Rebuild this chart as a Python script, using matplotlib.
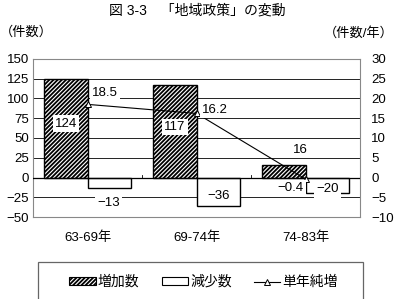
import numpy as np
import matplotlib.pyplot as plt
from matplotlib.lines import Line2D
from matplotlib.patches import Patch, Rectangle

plt.rcParams['font.family'] = ['Liberation Sans', 'Noto Sans CJK JP']
plt.rcParams['font.size'] = 9.5
plt.rcParams['hatch.linewidth'] = 1.3

periods = ['63-69年', '69-74年', '74-83年']
increase = [124, 117, 16]
decrease = [-13, -36, -20]
net_per_year = [18.5, 16.2, -0.4]

fig = plt.figure(figsize=(3.94, 2.99), dpi=100)
ax = fig.add_axes([0.084, 0.274, 0.83, 0.529])
ax2 = ax.twinx()

x = np.arange(len(periods))
w = 0.4

ax.bar(x - w, increase, w, align='edge', facecolor='white', edgecolor='black',
       hatch='////////', lw=1.0, zorder=3, label='増加数')
ax.bar(x, decrease, w, align='edge', facecolor='white', edgecolor='black',
       lw=1.0, zorder=3, label='減少数')
ax.set_ylim(-50, 150)
ax.set_yticks(range(-50, 151, 25))
ax.set_yticklabels([str(v).replace('-', '−') for v in range(-50, 151, 25)])
ax.set_xlim(-0.5, 2.5)
ax.set_xticks(x)
ax.set_xticklabels(periods)
ax.tick_params(length=0, pad=3)
ax.tick_params(axis='x', pad=10)
for v in range(-50, 151, 25):
    if v not in (-50, 150):
        ax.axhline(v, color='#222222', lw=0.7, zorder=1)
ax.axhline(0, color='black', lw=0.9, zorder=4)
for b in x[:-1] + 0.5:
    ax.plot([b, b], [0, 3], color='black', lw=0.6, zorder=4)
for s in ax.spines.values():
    s.set_color('#888888')
    s.set_linewidth(0.8)

ax2.set_ylim(-10, 30)
ax2.set_yticks(range(-10, 31, 5))
ax2.set_yticklabels([str(v).replace('-', '−') for v in range(-10, 31, 5)])
ax2.tick_params(length=0, pad=8)
for s in ax2.spines.values():
    s.set_visible(False)
ax2.plot(x, net_per_year, color='black', lw=0.8, marker='^', ms=5,
         mfc='white', mec='black', mew=0.7, zorder=5)

box = dict(facecolor='white', edgecolor='none', pad=1.5)
for i in range(len(periods)):
    if increase[i] > 50:
        ax.text(x[i] - w / 2, increase[i] * 0.55, str(increase[i]), ha='center',
                va='center', bbox=box, zorder=6)
    else:
        ax.text(x[i] - w / 8, increase[i] + 19, str(increase[i]), ha='center',
                va='center', bbox=box, zorder=6)
    ax.text(x[i] + w / 2 + (-0.01 if i == 0 else 0.0), decrease[i] - 19 if i == 0 else decrease[i] / 2 - 5,
            str(decrease[i]).replace('-', '−'), ha='center', va='center', bbox=box, zorder=6)
ax2.text(x[0] + 0.16, net_per_year[0] + 2.8, '18.5', ha='center', va='center', bbox=box, zorder=6)
ax2.text(x[1] + 0.17, net_per_year[1] + 0.9, '16.2', ha='center', va='center', bbox=box, zorder=6)
ax2.text(x[2] - 0.14, net_per_year[2] - 2.2, '−0.4', ha='center', va='center', bbox=box, zorder=6)

fig.text(0.5, 0.965, '図 3-3　「地域政策」の変動', ha='center', va='center', fontsize=10)
fig.text(0.0, 0.89, '（件数）', ha='left', va='center')
fig.text(1.0, 0.89, '（件数/年）', ha='right', va='center')

# legend frame runs off the bottom edge like the original
fig.add_artist(Rectangle((38 / 394, -0.1), 325 / 394, 0.1 + 37 / 299, transform=fig.transFigure,
                         facecolor='none', edgecolor='#666666', lw=0.9))
handles = [Patch(facecolor='white', edgecolor='black', hatch='////////', lw=0.8),
           Patch(facecolor='white', edgecolor='black', lw=0.8),
           Line2D([], [], color='black', lw=0.8, marker='^', ms=5, mfc='white', mec='black', mew=0.7)]
fig.legend(handles, ['増加数', '減少数', '単年純増'], ncol=3, loc='center',
           bbox_to_anchor=(0.517, 0.057), frameon=False, fontsize=10,
           handlelength=1.9, handleheight=0.45, handletextpad=0.15, columnspacing=1.6)

fig.savefig('out.png', dpi=100)
